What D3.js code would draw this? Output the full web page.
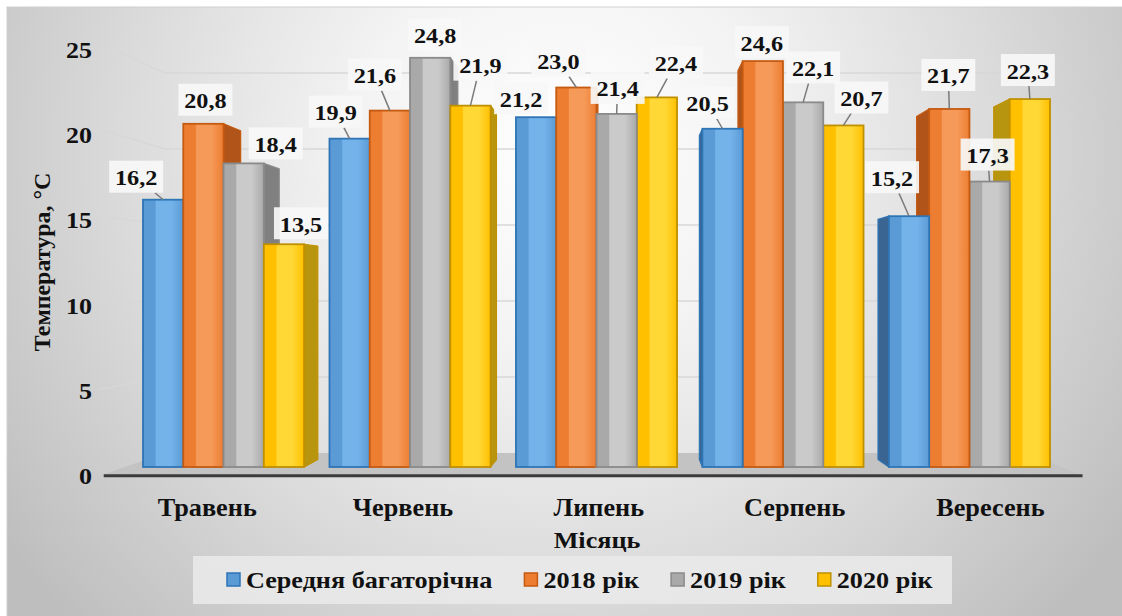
<!DOCTYPE html>
<html>
<head>
<meta charset="utf-8">
<script src="https://cdn.jsdelivr.net/npm/d3@7"></script>
<style>
  html, body { margin: 0; padding: 0; background: #ffffff; }
  svg { display: block; }
  text { font-family: "Liberation Serif", "Times New Roman", Times, serif; font-weight: 700; fill: #111; }
</style>
</head>
<body>
<svg id="chart" width="1122" height="616" font-family="Liberation Serif, Times New Roman, serif"></svg>
<script>
// ---- data ----
const categories = ["Травень", "Червень", "Липень", "Серпень", "Вересень"];
const seriesNames = ["Середня багаторічна", "2018 рік", "2019 рік", "2020 рік"];
const avgValues = [16.2, 19.9, 21.2, 20.5, 15.2];
const values2018 = [20.8, 21.6, 23.0, 24.6, 21.7];
const values2019 = [18.4, 24.8, 21.4, 22.1, 17.3];
const values2020 = [13.5, 21.9, 22.4, 20.7, 22.3];
const yTicks = [0, 5, 10, 15, 20, 25];
const yTitle = "Температура, °С";
const xTitle = "Місяць";

// ---- data-label placement (nudges relative to each column's top) ----
const labelDx = [
  [-27, -14, -15, -15, -17],
  [2, -15, -18, -1, -1],
  [32, 5, 1, 10, -2],
  [17, 10, 19, 18, -2]
];
const labelDy = [
  [-23, -27, -19, -26, -39],
  [-24, -36, -27, -19, -34],
  [-20, -23, -26, -35, -27],
  [-21, -41, -35, -28, -29]
];

// ---- styles ----
const palette = [
  { edge: "#2e75b6", base: "#5b9bd5", light: "#74b2ea", side: "#3a6593" },
  { edge: "#c55a11", base: "#ed7d31", light: "#f59a58", side: "#b0541a" },
  { edge: "#8a8a8a", base: "#a9a9a9", light: "#cacaca", side: "#808080" },
  { edge: "#bf9000", base: "#ffc000", light: "#ffd836", side: "#b8950e" }
];

const allSeries = [avgValues, values2018, values2019, values2020];

const svg = d3.select("#chart");
const W = 1122, H = 616;

// ---- background ----
const defs = svg.append("defs");
const bg = defs.append("radialGradient").attr("id", "bg")
  .attr("gradientUnits", "userSpaceOnUse")
  .attr("cx", 560).attr("cy", 150).attr("r", 680);
bg.append("stop").attr("offset", 0).attr("stop-color", "#ffffff");
bg.append("stop").attr("offset", 0.3).attr("stop-color", "#f3f3f3");
bg.append("stop").attr("offset", 0.65).attr("stop-color", "#dadada");
bg.append("stop").attr("offset", 1).attr("stop-color", "#bebebe");

palette.forEach((p, i) => {
  const g = defs.append("linearGradient").attr("id", "front" + i)
    .attr("x1", 0).attr("x2", 1).attr("y1", 0).attr("y2", 0);
  g.append("stop").attr("offset", 0).attr("stop-color", p.base);
  g.append("stop").attr("offset", 0.3).attr("stop-color", p.base);
  g.append("stop").attr("offset", 0.33).attr("stop-color", p.light);
  g.append("stop").attr("offset", 0.7).attr("stop-color", p.light);
  g.append("stop").attr("offset", 1).attr("stop-color", p.base);
});

svg.append("rect").attr("x", 7).attr("y", 7).attr("width", W).attr("height", H)
  .attr("fill", "url(#bg)").attr("stroke", "#cfcfcf").attr("stroke-width", 1);

// ---- scales and perspective ----
const x = d3.scaleBand().domain(categories).range([143, 1050]).paddingInner(0.136).paddingOuter(0);
const xs = d3.scaleBand().domain(d3.range(seriesNames.length)).range([0, x.bandwidth()]);
const y = d3.scaleLinear().domain([0, 25]).range([467, 54.5]);
const yLabel = d3.scaleLinear().domain([0, 25]).range([476, 50]);

const VP = [630, 290];          // vanishing point
const S_FRONT = 1.05, S_BACK = 0.921, S_BAR = 0.958;
const proj = (px, py, s) => [VP[0] + s * (px - VP[0]), VP[1] + s * (py - VP[1])];
const WALL_L = 125, WALL_R = 1061;

// ---- floor ----
const floorPts = [
  proj(WALL_L, y(0), S_FRONT), proj(WALL_R, y(0), S_FRONT),
  proj(WALL_R, y(0), S_BACK), proj(WALL_L, y(0), S_BACK)
];
svg.append("polygon").attr("points", floorPts.map(p => p.join(",")).join(" "))
  .attr("fill", "#c3c3c3");

// ---- gridlines (back wall + left wall) ----
const grid = svg.append("g").attr("stroke", "#d7d7d7").attr("stroke-width", 1.5).attr("fill", "none");
yTicks.filter(t => t > 0).forEach(t => {
  const a = proj(WALL_L, y(t), S_FRONT), b = proj(WALL_L, y(t), S_BACK), c = proj(WALL_R, y(t), S_BACK);
  grid.append("polyline").attr("points", [a, b, c].map(p => p.join(",")).join(" "));
});

// front edge of the floor
const fl = proj(WALL_L, y(0), S_FRONT), fr = proj(WALL_R, y(0), S_FRONT);
svg.append("line").attr("x1", fl[0] + 4).attr("x2", fr[0]).attr("y1", fl[1]).attr("y2", fl[1])
  .attr("stroke", "#3b3b3b").attr("stroke-width", 3);

// ---- columns ----
const bars = [];
categories.forEach((c, ci) => {
  allSeries.forEach((vals, si) => {
    const x0 = x(c) + xs(si), x1 = x0 + xs.bandwidth();
    bars.push({ ci, si, v: vals[ci], x0, x1, cx: (x0 + x1) / 2 });
  });
});
bars.sort((a, b) => Math.abs(b.cx - VP[0]) - Math.abs(a.cx - VP[0]));

const barG = svg.append("g");
bars.forEach(b => {
  const p = palette[b.si];
  const top = y(b.v), bot = y(0);
  const g = barG.append("g");
  // side face toward the vanishing point
  let ex = null;
  if (b.x1 < VP[0]) ex = b.x1; else if (b.x0 > VP[0]) ex = b.x0;
  if (ex !== null) {
    const pts = [proj(ex, top, 1), proj(ex, top, S_BAR), proj(ex, bot, S_BAR), proj(ex, bot, 1)];
    g.append("polygon").attr("points", pts.map(q => q.join(",")).join(" "))
      .attr("fill", p.side).attr("stroke", p.edge).attr("stroke-width", 1.2).attr("stroke-linejoin", "round");
  }
  // top face, only when the top is below eye level
  if (top > VP[1]) {
    const pts = [proj(b.x0, top, 1), proj(b.x1, top, 1), proj(b.x1, top, S_BAR), proj(b.x0, top, S_BAR)];
    g.append("polygon").attr("points", pts.map(q => q.join(",")).join(" "))
      .attr("fill", p.light).attr("stroke", p.edge).attr("stroke-width", 1.2);
  }
  g.append("rect").attr("x", b.x0).attr("y", top).attr("width", b.x1 - b.x0).attr("height", bot - top)
    .attr("fill", `url(#front${b.si})`).attr("stroke", p.edge).attr("stroke-width", 1.8);
});

// ---- helpers ----
function stretch(sel, f) {
  sel.each(function () {
    const w = this.getComputedTextLength();
    this.setAttribute("textLength", (w * f).toFixed(1));
    this.setAttribute("lengthAdjust", "spacingAndGlyphs");
  });
  return sel;
}
const fmt = v => v.toFixed(1).replace(".", ",");

// ---- data labels ----
const lab = svg.append("g");
const BW = 54, BH = 32;
bars.forEach(b => {
  const top = y(b.v);
  const cx = b.cx + labelDx[b.si][b.ci];
  const cy = top + labelDy[b.si][b.ci];
  // leader line
  const ux = b.cx - cx, uy = top - cy;
  const t = Math.min(ux === 0 ? Infinity : (BW / 2) / Math.abs(ux), uy === 0 ? Infinity : (BH / 2) / Math.abs(uy));
  if (t < 1) {
    const ex = cx + ux * t, ey = cy + uy * t;
    if (Math.hypot(b.cx - ex, top - ey) > 9) {
      lab.append("line").attr("x1", b.cx).attr("y1", top).attr("x2", ex).attr("y2", ey)
        .attr("stroke", "#7a7a7a").attr("stroke-width", 1.5);
    }
  }
  lab.append("rect").attr("x", cx - BW / 2).attr("y", cy - BH / 2).attr("width", BW).attr("height", BH)
    .attr("fill", "#f7f7f7").attr("fill-opacity", 0.92);
  stretch(lab.append("text").attr("x", cx).attr("y", cy + 1).attr("text-anchor", "middle")
    .attr("dominant-baseline", "central").attr("font-size", 22).text(fmt(b.v)), 1.1);
});

// ---- y axis tick labels ----
const yt = svg.append("g");
yTicks.forEach(t => {
  stretch(yt.append("text").attr("x", 92).attr("y", yLabel(t)).attr("text-anchor", "end")
    .attr("dominant-baseline", "central").attr("font-size", 24).text(t), 1.08);
});

// ---- category labels ----
const xl = svg.append("g");
categories.forEach(c => {
  const px = proj(x(c) + x.bandwidth() / 2, y(0), S_FRONT)[0];
  stretch(xl.append("text").attr("x", px + 4).attr("y", 507).attr("text-anchor", "middle")
    .attr("dominant-baseline", "central").attr("font-size", 25).text(c), 1.05);
});

// ---- axis titles ----
stretch(svg.append("text").attr("transform", "translate(42,262) rotate(-90)")
  .attr("text-anchor", "middle").attr("dominant-baseline", "central").attr("font-size", 23).text(yTitle), 1.04);
stretch(svg.append("text").attr("x", 597).attr("y", 540).attr("text-anchor", "middle")
  .attr("dominant-baseline", "central").attr("font-size", 24).text(xTitle), 1.09);

// ---- legend ----
const leg = svg.append("g");
leg.append("rect").attr("x", 193).attr("y", 556).attr("width", 759).attr("height", 48)
  .attr("fill", "#e9e9e9").attr("fill-opacity", 0.9);
let lx = 227;
seriesNames.forEach((name, i) => {
  const p = palette[i];
  leg.append("rect").attr("x", lx).attr("y", 573).attr("width", 13).attr("height", 13)
    .attr("fill", p.base).attr("stroke", p.edge).attr("stroke-width", 1.5);
  const tx = leg.append("text").attr("x", lx + 19).attr("y", 580).attr("dominant-baseline", "central")
    .attr("font-size", 24).text(name);
  stretch(tx, 1.09);
  lx += 19 + (+tx.attr("textLength")) + 32;
});
</script>
</body>
</html>
